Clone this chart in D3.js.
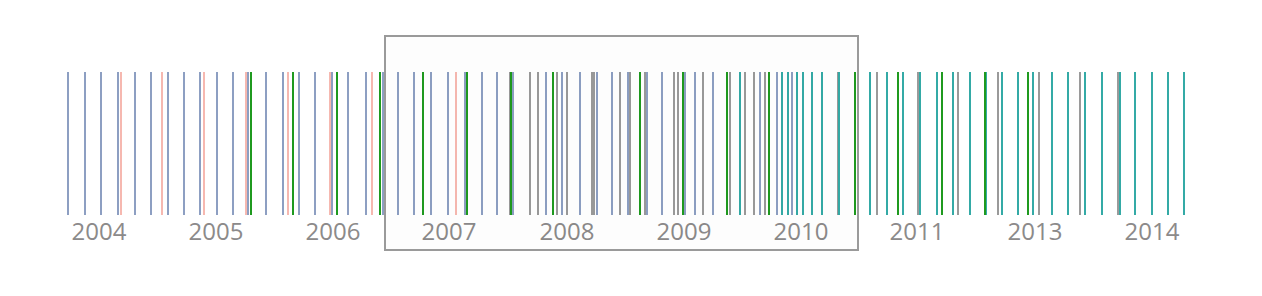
<!DOCTYPE html>
<html>
<head>
<meta charset="utf-8">
<script src="https://cdn.jsdelivr.net/npm/d3@7"></script>
<style>
  body { margin: 0; background: #fff; }
  .year { font-family: 'Open Sans', sans-serif; font-size: 24px; fill: #8c8a8a; }
</style>
</head>
<body>
<div id="timeline"></div>
<script>
// positions along the timeline (arbitrary units)
const blueEvents = [0, 1.7, 3.3, 5.0, 6.7, 8.3, 10.0, 11.6, 13.2, 14.9, 16.5, 18.0, 19.8, 21.5, 23.1,
  24.7, 26.4, 28.0, 29.8, 31.5, 33.0, 34.6, 36.3, 38.0, 39.7, 41.4, 42.9, 44.5, 46.2, 47.8, 49.4,
  51.2, 52.9, 54.4, 56.0, 57.9, 59.4, 61.7, 62.7, 64.5, 69.2, 70.9, 72.4]
const pinkEvents = [5.3, 9.4, 13.6, 17.8, 22.0, 26.2, 30.4, 38.8]
const greenEvents = [18.3, 22.5, 26.9, 31.2, 35.5, 39.9, 44.3, 48.5, 57.2, 61.5, 65.9, 70.1,
  78.7, 83.0, 87.4, 91.7, 96.0]
const grayEvents = [44.2, 46.2, 47.0, 48.9, 49.9, 52.4, 52.6, 55.2, 56.2, 57.7, 60.6, 61.0, 63.5,
  66.2, 67.7, 68.6, 69.7, 77.0, 80.9, 85.0, 89.0, 93.0, 97.1, 101.2, 105.0]
const tealEvents = [67.2, 71.4, 72.0, 72.9, 73.5, 74.4, 75.4, 77.1, 80.2, 81.9, 83.5, 85.2, 86.9,
  88.5, 90.2, 91.8, 93.4, 95.0, 96.5, 98.4, 100.0, 101.7, 103.4, 105.2, 106.7, 108.4, 110.0, 111.6]

const yearLabels = ['2004', '2005', '2006', '2007', '2008', '2009', '2010', '2011', '2013', '2014']
const yearPositions = [3.1, 14.8, 26.5, 38.1, 49.9, 61.6, 73.3, 84.9, 96.7, 108.4]

const brushExtent = [31.7, 79.0]

const width = 1262
const height = 296
const margin = { left: 68, right: 77 }

const colors = {
  blue: '#8d9fc2',
  pink: '#f6b8b0',
  green: '#1f9a1f',
  gray: '#9a9a9a',
  teal: '#34aaa6'
}

const events = [
  ...blueEvents.map(v => ({ v, c: 'blue' })),
  ...pinkEvents.map(v => ({ v, c: 'pink' })),
  ...grayEvents.map(v => ({ v, c: 'gray' })),
  ...tealEvents.map(v => ({ v, c: 'teal' })),
  ...greenEvents.map(v => ({ v, c: 'green' }))
]

const x = d3.scaleLinear().domain([0, 111.7]).range([margin.left, width - margin.right])
const y = d3.scaleLinear().domain([0, 1]).range([215, 72])

const svg = d3.select('#timeline')
  .append('svg')
  .attr('width', width)
  .attr('height', height)

// snap to whole pixels so the 2px strokes stay crisp
const px = v => Math.round(x(v))

svg.selectAll('.event')
  .data(events)
  .enter()
  .append('line')
  .attr('class', 'event')
  .attr('x1', d => px(d.v))
  .attr('x2', d => px(d.v))
  .attr('y1', y(0))
  .attr('y2', y(1))
  .attr('stroke', d => colors[d.c])
  .attr('stroke-width', 2)

svg.selectAll('.year')
  .data(yearLabels)
  .enter()
  .append('text')
  .attr('class', 'year')
  .attr('x', (d, i) => x(yearPositions[i]))
  .attr('y', 240)
  .attr('text-anchor', 'middle')
  .text(d => d)

// brush window
svg.append('rect')
  .attr('x', px(brushExtent[0]))
  .attr('y', 36)
  .attr('width', px(brushExtent[1]) - px(brushExtent[0]))
  .attr('height', 214)
  .attr('fill', 'rgba(0,0,0,0.006)')
  .attr('stroke', '#9a9a9a')
  .attr('stroke-width', 2)
</script>
</body>
</html>
